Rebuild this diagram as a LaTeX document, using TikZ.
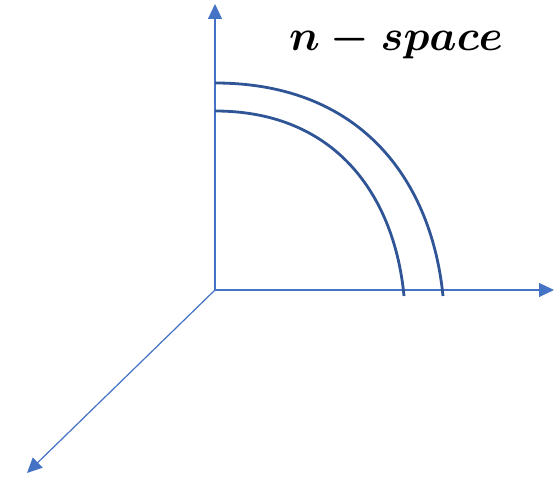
\documentclass[tikz,border=0pt]{standalone}
\usepackage{amsmath,amssymb}
\usepackage{graphicx}
\usepackage{bm}
\usepackage{tikz}
\usetikzlibrary{arrows.meta,positioning}
\definecolor{axisblue}{HTML}{4472C4}
\definecolor{curveblue}{HTML}{2F5597}

\begin{document}
\begin{tikzpicture}[
  x=1pt,y=-1pt,
  axis/.style={-{Triangle[length=15pt,width=14pt]},draw=axisblue,fill=axisblue,line width=1.2pt},
  front/.style={draw=curveblue,line width=2.8pt},
  lbl/.style={font=\LARGE\boldmath}
]
\useasboundingbox (0,0) rectangle (554,478);
\coordinate (O) at (215,290);
\coordinate (ytop) at (215,4);
\coordinate (xend) at (554,290);
\coordinate (zend) at (27,473);
\coordinate (outA) at (215,83);
\coordinate (outB) at (443,296);
\coordinate (inA) at (215,111);
\coordinate (inB) at (404,296);
\node[lbl] (space) at (396,41) {\scalebox{2.5}{$n-space$}};
% Axes
\draw[axis] (O) -- (ytop);
\draw[axis] (O) -- (xend);
\draw[axis] (O) -- (zend);
% Curves
\draw[front] (outA) .. controls (365,83) and (432,185) .. (outB);
\draw[front] (inA) .. controls (339,111) and (395,200) .. (inB);
\end{tikzpicture}
\end{document}
